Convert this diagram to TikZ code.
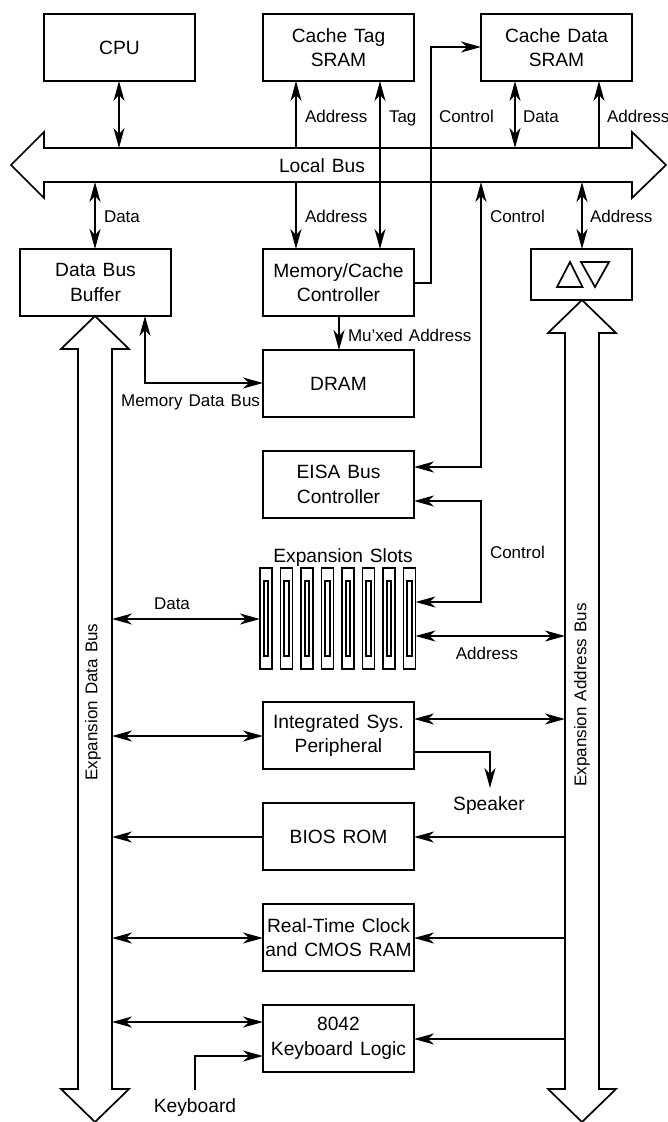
\documentclass[tikz,border=0pt]{standalone}
\usepackage{fontspec}
\setmainfont[WordSpace=1.3]{Liberation Sans}
\usetikzlibrary{arrows.meta}
\tikzset{
  x=1pt,y=-1pt,
  every picture/.style={line width=1.7pt},
  box/.style={draw=black,line width=1.7pt,inner sep=0pt,outer sep=0pt,minimum width=151pt,minimum height=67pt,align=center,font=\fontsize{19.2}{24.5}\selectfont},
  lbl/.style={inner sep=0pt,outer sep=0pt,anchor=base,font=\fontsize{17}{20}\selectfont},
  lblw/.style={lbl,anchor=base west},
  big/.style={lbl,font=\fontsize{19.2}{22}\selectfont},
  bus/.style={draw=black,line width=1.7pt,line join=miter},
  conn/.style={draw=black,line width=1.7pt},
  tipp/.tip={Stealth[length=20pt,width=11pt,inset=6pt]},
  one/.style={conn,-tipp},
  two/.style={conn,tipp-tipp},
  slotbox/.style={draw=black,line width=1.7pt,fill=white,inner sep=0pt,outer sep=0pt,minimum width=12pt,minimum height=101pt},
  slotin/.style={draw=black,line width=1.7pt,inner sep=0pt,outer sep=0pt,minimum width=4.5pt,minimum height=75pt},
}
\begin{document}
\begin{tikzpicture}
\useasboundingbox (0,0) rectangle (668,1122);
% rails
\coordinate (lbt) at (0,148);
\coordinate (lbb) at (0,182);
\coordinate (dbr) at (112,0);
\coordinate (abl) at (565,0);
\coordinate (x119) at (119,0);
\coordinate (x296) at (296,0);
\coordinate (x380) at (380,0);
\coordinate (x431) at (431,0);
\coordinate (x481) at (481,0);
\coordinate (x515) at (515,0);
\coordinate (x599) at (599,0);
\coordinate (x582) at (582,0);
\coordinate (x95) at (95,0);
\coordinate (x145) at (145,0);
\coordinate (x339) at (339,0);
\coordinate (y47) at (0,47);
\coordinate (y283) at (0,283);
\coordinate (y383) at (0,383);
\coordinate (y467) at (0,467);
\coordinate (y501) at (0,501);
\coordinate (y602) at (0,602);
\coordinate (y619) at (0,619);
\coordinate (y636) at (0,636);
\coordinate (y719) at (0,719);
\coordinate (y736) at (0,736);
\coordinate (y752) at (0,752);
\coordinate (y837) at (0,837);
\coordinate (y938) at (0,938);
\coordinate (y1022) at (0,1022);
\coordinate (y1039) at (0,1039);
\coordinate (y1056) at (0,1056);
\coordinate (spk) at (490,788);
\coordinate (kbs) at (195,1090);
% buses
\draw[bus] (44,148) -- (44,132) -- (11,165) -- (44,198) -- (44,182) -- (632,182) -- (632,198) -- (666,165) -- (632,132) -- (632,148) -- cycle;
\draw[bus] (78,349) -- (61,349) -- (95,316) -- (129,349) -- (112,349) -- (112,1089) -- (129,1089) -- (95,1122) -- (61,1089) -- (78,1089) -- cycle;
\draw[bus] (565,333) -- (548,333) -- (582,300) -- (616,333) -- (599,333) -- (599,1089) -- (616,1089) -- (582,1122) -- (548,1089) -- (565,1089) -- cycle;
% boxes
\node[box] (cpu) at (119.5,47.5) {CPU};
\node[box] (tag) at (338.5,47.5) {Cache Tag\\SRAM};
\node[box] (data) at (556.5,47.5) {Cache Data\\SRAM};
\node[box] (dbb) at (95.5,282.5) {Data Bus\\Buffer};
\node[box] (mcc) at (338.5,282.5) {Memory/Cache\\Controller};
\node[box,minimum width=101pt,minimum height=51pt] (xcv) at (581.5,274.5) {};
\node[box] (dram) at (338.5,383.5) {DRAM};
\node[box] (eisa) at (338.5,484.5) {EISA Bus\\Controller};
\node[box] (isp) at (338.5,735.5) {Integrated Sys.\\Peripheral};
\node[box] (bios) at (338.5,836.5) {BIOS ROM};
\node[box] (rtc) at (338.5,937.5) {Real-Time Clock\\and CMOS RAM};
\node[box] (kbd) at (338.5,1038.5) {8042\\Keyboard Logic};
% transceiver triangles
\draw[bus] (557,287) -- (570,262) -- (582.5,287) -- cycle;
\draw[bus] (581,262) -- (609,262) -- (595,287) -- cycle;
% slots
\foreach \i in {1,...,8} {
  \node[slotbox] (slot\i) at ({266+20.5*(\i-1)},618.5) {};
  \node[slotin] (slotin\i) at ({266+20.5*(\i-1)},618.5) {};
}
% text nodes
\node[big] (lbus) at (322,172) {Local Bus};
\node[lbl,rotate=90,anchor=center] (dbus) at (93,702) {Expansion Data Bus};
\node[lbl,rotate=90,anchor=center] (abus) at (582,695) {Expansion Address Bus};
\node[big] (slots) at (343,562) {Expansion Slots};
\node[big] (speaker) at (489,810) {Speaker};
\node[big] (keyb) at (195,1112) {Keyboard};
\node[lblw] at (305,122) {Address};
\node[lblw] at (389,122) {Tag};
\node[lblw] at (439,122) {Control};
\node[lblw] at (523,122) {Data};
\node[lblw] at (607,122) {Address};
\node[lblw] at (104,222) {Data};
\node[lblw] at (305,222) {Address};
\node[lblw] at (490,222) {Control};
\node[lblw] at (590,222) {Address};
\node[lblw] at (348,341) {Mu'xed Address};
\node[lbl,anchor=base east] at (260,406) {Memory Data Bus};
\node[lblw] at (490,558) {Control};
\node[lbl] at (172,609) {Data};
\node[lbl] at (487,659) {Address};
% connectors: local bus
\draw[two] (cpu.south -| x119) -- (x119 |- lbt);
\draw[one] (x296 |- lbt) -- (tag.south -| x296);
\draw[one] (x296 |- lbb) -- (mcc.north -| x296);
\draw[two] (tag.south -| x380) -- (mcc.north -| x380);
\draw[two] (data.south -| x515) -- (x515 |- lbt);
\draw[one] (x599 |- lbt) -- (data.south -| x599);
\draw[two] (x95 |- lbb) -- (dbb.north -| x95);
\draw[two] (x582 |- lbb) -- (xcv.north -| x582);
\draw[conn,-tipp] (mcc.east |- y283) -| (x431 |- y47) -- (data.west |- y47);
\draw[conn,tipp-tipp] (x481 |- lbb) |- (eisa.east |- y467);
\draw[one] (mcc.south -| x339) -- (dram.north -| x339);
\draw[conn,tipp-tipp] (dbb.south -| x145) |- (dram.west |- y383);
\draw[conn,tipp-tipp] (eisa.east |- y501) -| (x481 |- y602) -- (slot8.east |- y602);
% expansion data bus side
\draw[two] (dbr |- y619) -- (slot1.west |- y619);
\draw[two] (dbr |- y736) -- (isp.west |- y736);
\draw[one] (bios.west |- y837) -- (dbr |- y837);
\draw[two] (dbr |- y938) -- (rtc.west |- y938);
\draw[two] (dbr |- y1022) -- (kbd.west |- y1022);
% expansion address bus side
\draw[two] (slot8.east |- y636) -- (abl |- y636);
\draw[two] (isp.east |- y719) -- (abl |- y719);
\draw[one] (abl |- y837) -- (bios.east |- y837);
\draw[one] (abl |- y938) -- (rtc.east |- y938);
\draw[one] (abl |- y1039) -- (kbd.east |- y1039);
\draw[conn,-tipp] (isp.east |- y752) -| (spk);
\draw[conn,-tipp] (kbs) |- (kbd.west |- y1056);
\end{tikzpicture}
\end{document}
